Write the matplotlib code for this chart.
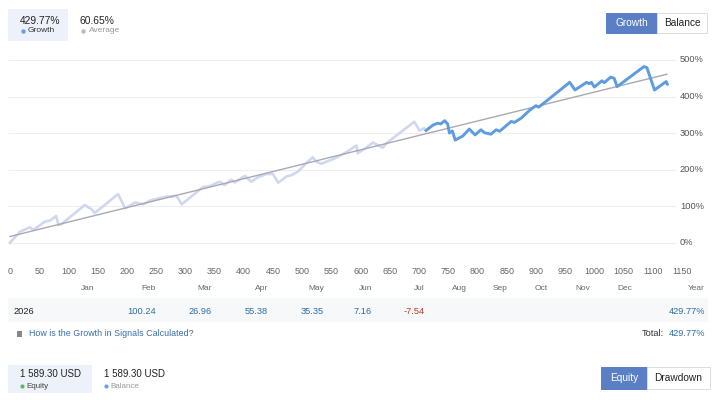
import matplotlib
matplotlib.use("Agg")
import matplotlib.pyplot as plt
from matplotlib.patches import Rectangle
from matplotlib.lines import Line2D

plt.rcParams['font.family'] = ['Liberation Sans', 'DejaVu Sans']

# ---------------- data ----------------
light_x = [0, 17, 34, 40, 60, 68, 79, 83, 88, 128, 140, 145, 185, 197, 214, 228, 239, 256, 268, 285,
           294, 330, 342, 359, 367, 379, 385, 402, 413, 424, 439, 450, 459, 473, 482, 493, 508, 518,
           524, 533, 556, 573, 593, 595, 610, 621, 638, 644, 692, 701, 709]
light_y = [0, 30, 42, 35, 58, 60, 73, 48, 51, 103, 91, 81, 133, 94, 110, 105, 115, 122, 126, 128,
           105, 152, 155, 167, 158, 172, 165, 183, 167, 179, 188, 188, 164, 181, 185, 195, 219, 234,
           222, 216, 231, 245, 266, 245, 260, 274, 260, 272, 331, 307, 313]
blue_x = [712, 724, 732, 737, 744, 749, 752, 757, 762, 775, 786, 796, 806, 812, 823, 832, 838, 858,
          863, 875, 889, 900, 905, 958, 967, 987, 991, 995, 1000, 1013, 1017, 1028, 1034, 1039, 1085,
          1090, 1103, 1123, 1125]
blue_y = [307, 322, 327, 325, 334, 325, 300, 306, 281, 292, 311, 295, 309, 301, 297, 309, 305, 332,
          329, 341, 362, 375, 371, 439, 418, 439, 435, 439, 426, 443, 438, 453, 450, 427, 482,
          479, 418, 441, 434]
trend_x = [0, 1124]
trend_y = [17, 461]

x_ticks = [0, 50, 100, 150, 200, 250, 300, 350, 400, 450, 500, 550, 600, 650, 700, 750, 800, 850,
           900, 950, 1000, 1050, 1100, 1150]
y_ticks = [0, 100, 200, 300, 400, 500]

months = ['Jan', 'Feb', 'Mar', 'Apr', 'May', 'Jun', 'Jul', 'Aug', 'Sep', 'Oct', 'Nov', 'Dec', 'Year']
month_right_px = [94, 156, 212, 268, 324, 372, 425, 467, 508, 548, 590, 632, 705]
year_label = '2026'
month_values = ['', '100.24', '26.96', '55.38', '35.35', '7.16', '-7.54', '', '', '', '', '', '429.77%']

growth_total = '429.77%'
average_val = '60.65%'
equity_val = '1 589.30 USD'
balance_val = '1 589.30 USD'

# ---------------- figure ----------------
W, H = 716, 400
fig = plt.figure(figsize=(W / 100, H / 100), dpi=100)
fig.patch.set_facecolor('white')


def fx(px):
    return px / W


def fy(py):
    return 1 - py / H


def dot(px, py, color, size=3.2):
    fig.add_artist(Line2D([fx(px)], [fy(py)], transform=fig.transFigure, marker='o',
                          markersize=size, markerfacecolor=color, markeredgecolor='none',
                          linestyle='none'))


# axes geometry (pixels)
ax_l, ax_r, ax_t, ax_b = 8, 700, 41.7, 262
px_per_x = 0.5843
px_per_y = 0.3654
x0_px, y0_px = 10, 242.7
xmin = (ax_l - x0_px) / px_per_x
xmax = (ax_r - x0_px) / px_per_x
ymin = (y0_px - ax_b) / px_per_y
ymax = (y0_px - ax_t) / px_per_y
grid_end = (675 - x0_px) / px_per_x

ax = fig.add_axes([fx(ax_l), fy(ax_b), fx(ax_r) - fx(ax_l), fy(ax_t) - fy(ax_b)])
ax.set_xlim(xmin, xmax)
ax.set_ylim(ymin, ymax)
for s in ax.spines.values():
    s.set_visible(False)
ax.patch.set_alpha(0)

ax.hlines(y_ticks, xmin, grid_end, colors='#eeeeee', linewidth=0.8, zorder=0)
ax.hlines([ymin + 0.5], xmin, grid_end, colors='#e6e6e6', linewidth=0.8, zorder=0)

ax.plot(light_x, light_y, color='#d2d7f0', linewidth=1.9, solid_joinstyle='round', zorder=2)
ax.plot(trend_x, trend_y, color='#a9a9b3', linewidth=1.0, zorder=3)
ax.plot(blue_x, blue_y, color='#5f9be0', linewidth=2.1, solid_joinstyle='round', zorder=4)

ax.set_xticks(x_ticks)
ax.set_xticklabels([str(t) for t in x_ticks])
ax.tick_params(axis='x', length=0, pad=3.5, labelsize=6.5, labelcolor='#666666')
ax.set_yticks([])
for t in y_ticks:
    ax.text((680 - x0_px) / px_per_x, t, f'{t}%', ha='left', va='center',
            fontsize=6.7, color='#555555')

# ---------------- header ----------------
fig.patches.append(Rectangle((fx(8), fy(41)), fx(68) - fx(8), fy(9) - fy(41),
                             transform=fig.transFigure, facecolor='#edf1f9', edgecolor='none'))
fig.text(fx(20), fy(20.5), growth_total, fontsize=7.4, color='#222222', ha='left', va='center')
dot(23, 31, '#6aa0e0')
fig.text(fx(28), fy(31), 'Growth', fontsize=6.0, color='#333333', ha='left', va='center')

fig.text(fx(80), fy(20.5), average_val, fontsize=7.4, color='#222222', ha='left', va='center')
dot(83, 31, '#bbbbbb')
fig.text(fx(89), fy(31), 'Average', fontsize=6.0, color='#999999', ha='left', va='center')


def button(x1, x2, y1, y2, label, active):
    fc = '#5b7fc4' if active else 'white'
    ec = '#5b7fc4' if active else '#dddddd'
    fig.patches.append(Rectangle((fx(x1), fy(y2)), fx(x2) - fx(x1), fy(y1) - fy(y2),
                                 transform=fig.transFigure, facecolor=fc, edgecolor=ec,
                                 linewidth=0.7))
    fig.text(fx((x1 + x2) / 2), fy((y1 + y2) / 2), label, fontsize=7.3,
             color='white' if active else '#222222', ha='center', va='center')


button(606, 657, 13, 33, 'Growth', True)
button(657, 707, 13, 33, 'Balance', False)

# ---------------- month table ----------------
for m, xr in zip(months, month_right_px):
    fig.text(fx(xr), fy(289), m, fontsize=6.0, color='#666666', ha='right', va='center')

fig.patches.append(Rectangle((fx(8), fy(322)), fx(708) - fx(8), fy(298) - fy(322),
                             transform=fig.transFigure, facecolor='#f7f8fa', edgecolor='none'))
fig.text(fx(14), fy(311), year_label, fontsize=6.7, color='#222222', ha='left', va='center')
for v, xr in zip(month_values, month_right_px):
    if not v:
        continue
    col = '#c0392b' if v.startswith('-') else '#2e6d9e'
    fig.text(fx(xr), fy(311), v, fontsize=6.7, color=col, ha='right', va='center')

fig.patches.append(Rectangle((fx(17), fy(337)), fx(22) - fx(17), fy(331) - fy(337),
                             transform=fig.transFigure, facecolor='#888888', edgecolor='none'))
fig.text(fx(29), fy(334), 'How is the Growth in Signals Calculated?', fontsize=6.4,
         color='#3a6ea5', ha='left', va='center')
fig.text(fx(664), fy(334), 'Total:', fontsize=6.7, color='#333333', ha='right', va='center')
fig.text(fx(705), fy(334), growth_total, fontsize=6.7, color='#2e6d9e', ha='right', va='center')

# ---------------- bottom section ----------------
fig.patches.append(Rectangle((fx(8), fy(393)), fx(92) - fx(8), fy(365) - fy(393),
                             transform=fig.transFigure, facecolor='#edf1f9', edgecolor='none'))
fig.text(fx(20), fy(374), equity_val, fontsize=7.0, color='#222222', ha='left', va='center')
dot(22, 386, '#5cb85c', 3.0)
fig.text(fx(26), fy(386), 'Equity', fontsize=5.8, color='#444444', ha='left', va='center')

fig.text(fx(104), fy(374), balance_val, fontsize=7.0, color='#222222', ha='left', va='center')
dot(106, 386, '#6aa0e0', 3.0)
fig.text(fx(110), fy(386), 'Balance', fontsize=5.8, color='#999999', ha='left', va='center')

button(601, 647, 367, 389, 'Equity', True)
button(647, 710, 367, 389, 'Drawdown', False)

fig.savefig('out.png', dpi=100, facecolor='white')
